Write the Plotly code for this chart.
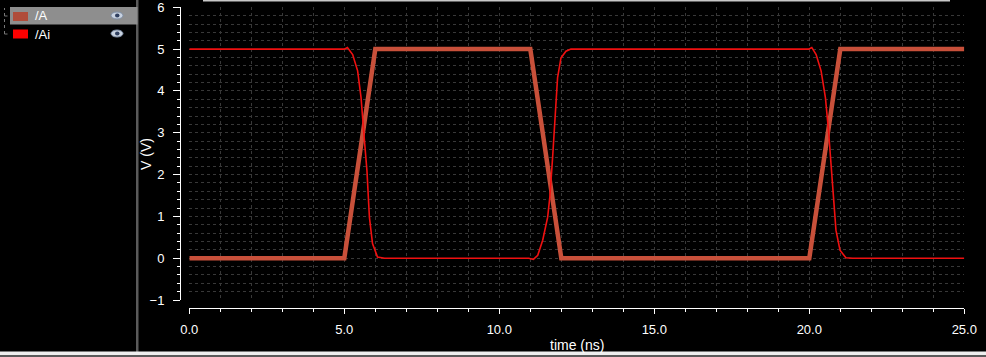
import plotly.graph_objects as go

W, H = 986, 357

# ---- data ----
series_names = ["/A", "/Ai"]
t_A = [0, 5, 6, 11, 12, 20, 21, 25]
v_A = [0, 0, 5, 5, 0, 0, 5, 5]

t_Ai = [0, 5.0, 5.1, 5.27, 5.43, 5.54, 5.65, 5.73, 5.81, 5.91, 6.07, 6.3,
        10.95, 11.1, 11.24, 11.4, 11.56, 11.63, 11.72, 11.8, 11.88, 11.99, 12.15, 12.31,
        19.98, 20.08, 20.22, 20.38, 20.52, 20.62, 20.7, 20.77, 20.86, 20.99, 21.18, 21.4, 25]
v_Ai = [5, 5, 5.04, 4.87, 4.48, 3.84, 2.81, 2.1, 0.98, 0.35, 0.03, 0,
        0, -0.03, 0.07, 0.43, 0.98, 1.46, 2.41, 3.44, 4.32, 4.79, 4.95, 5.0,
        5.0, 5.04, 4.87, 4.48, 3.84, 3.05, 2.25, 1.46, 0.67, 0.19, 0.01, 0, 0]

x_range = [0, 25]
y_range = [-1, 6]
x_title = "time (ns)"
y_title = "V (V)"

col_A = "#c8503a"
col_Ai = "#f01010"


def fx(px):
    return px / W


def fy(py):
    return 1 - py / H


FONT = "Liberation Sans"
x_dom = [fx(189.3), fx(964.3)]
y_dom = [fy(300), fy(7.3)]

fig = go.Figure()
# carrier trace so the outer (offset) axes are drawn
fig.add_trace(go.Scatter(x=x_range, y=y_range, xaxis="x2", yaxis="y2", mode="lines",
                         line=dict(width=0, color="rgba(0,0,0,0)"), hoverinfo="skip",
                         showlegend=False))
fig.add_trace(go.Scatter(x=t_A, y=v_A, mode="lines", name=series_names[0],
                         line=dict(color=col_A, width=4.5), showlegend=False))
fig.add_trace(go.Scatter(x=t_Ai, y=v_Ai, mode="lines", name=series_names[1],
                         line=dict(color=col_Ai, width=1.6), showlegend=False))

grid = dict(gridcolor="#383838", griddash="dot", gridwidth=1)

fig.update_layout(
    width=W, height=H,
    autosize=False,
    margin=dict(l=0, r=0, t=0, b=0, pad=0, autoexpand=False),
    paper_bgcolor="black", plot_bgcolor="black",
    font=dict(family=FONT, color="white", size=13),
    xaxis=dict(domain=x_dom, range=x_range, showgrid=True, dtick=5, **grid,
               minor=dict(dtick=1, showgrid=True, **grid), automargin=False,
               zeroline=False, showticklabels=False, showline=False, ticks=""),
    yaxis=dict(domain=y_dom, range=y_range, showgrid=True, dtick=1, **grid,
               minor=dict(dtick=0.2, showgrid=True, **grid), automargin=False,
               zeroline=False, showticklabels=False, showline=False, ticks=""),
    xaxis2=dict(overlaying="x", anchor="free", position=fy(307.5), range=x_range,
                domain=x_dom, automargin=False, ticklabeloverflow="allow",
                showgrid=False, zeroline=False, showline=True, linecolor="white", linewidth=1,
                ticks="outside", ticklen=5, tickcolor="white", tickwidth=1, dtick=5,
                tickformat=".1f", ticklabelstandoff=5,
                tickfont=dict(family=FONT, color="white", size=13),
                minor=dict(dtick=1, ticks="outside", ticklen=3, tickcolor="white", showgrid=False)),
    yaxis2=dict(overlaying="y", anchor="free", position=fx(180), side="left", range=y_range,
                domain=y_dom, automargin=False, ticklabeloverflow="allow",
                showgrid=False, zeroline=False, showline=True, linecolor="white", linewidth=1,
                ticks="outside", ticklen=7, tickcolor="white", tickwidth=1, dtick=1,
                ticklabelstandoff=6,
                tickfont=dict(family=FONT, color="white", size=13),
                minor=dict(dtick=0.2, ticks="outside", ticklen=3, tickcolor="white", showgrid=False)),
)

# axis titles
fig.add_annotation(x=fx(577), y=fy(345), xref="paper", yref="paper", text=x_title,
                   showarrow=False, font=dict(family=FONT, size=14, color="white"),
                   xanchor="center", yanchor="middle")
fig.add_annotation(x=fx(146), y=fy(154), xref="paper", yref="paper", text=y_title,
                   showarrow=False, textangle=-90, font=dict(family=FONT, size=14, color="white"),
                   xanchor="center", yanchor="middle")

shapes = []
# left panel separator
shapes.append(dict(type="rect", xref="paper", yref="paper", x0=fx(136), x1=fx(138.5),
                   y0=fy(352), y1=fy(0), fillcolor="#5a5a5a", line=dict(width=0), layer="below"))
# bottom band
shapes.append(dict(type="rect", xref="paper", yref="paper", x0=0, x1=1,
                   y0=fy(355), y1=fy(351.5), fillcolor="#eeeeee", line=dict(width=0)))
shapes.append(dict(type="rect", xref="paper", yref="paper", x0=0, x1=1,
                   y0=0, y1=fy(355), fillcolor="#5a5a5a", line=dict(width=0)))
# top grey line
shapes.append(dict(type="rect", xref="paper", yref="paper", x0=fx(203), x1=fx(950),
                   y0=fy(1.5), y1=1, fillcolor="#c8c8c8", line=dict(width=0)))
# legend highlight row
shapes.append(dict(type="rect", xref="paper", yref="paper", x0=fx(10), x1=fx(137.5),
                   y0=fy(24.5), y1=fy(7), fillcolor="#8e8e8e", line=dict(width=0)))
# tree dotted lines
shapes.append(dict(type="line", xref="paper", yref="paper", x0=fx(4.5), x1=fx(4.5),
                   y0=fy(34), y1=fy(8), line=dict(color="#777777", width=1, dash="dot")))
for yy in (16, 34):
    shapes.append(dict(type="line", xref="paper", yref="paper", x0=fx(4.5), x1=fx(10),
                       y0=fy(yy), y1=fy(yy), line=dict(color="#777777", width=1, dash="dot")))
# swatches
shapes.append(dict(type="rect", xref="paper", yref="paper", x0=fx(13), x1=fx(28),
                   y0=fy(21), y1=fy(12), fillcolor="#b04c3a", line=dict(width=0)))
shapes.append(dict(type="rect", xref="paper", yref="paper", x0=fx(13), x1=fx(28),
                   y0=fy(38.5), y1=fy(29.5), fillcolor="#ff0000", line=dict(width=0)))
# eye icons
for yy in (15.5, 33.5):
    shapes.append(dict(type="circle", xref="paper", yref="paper", x0=fx(111), x1=fx(123),
                       y0=fy(yy + 3.5), y1=fy(yy - 3.5), fillcolor="#c8d2e0",
                       line=dict(color="#8090a8", width=1)))
    shapes.append(dict(type="circle", xref="paper", yref="paper", x0=fx(115), x1=fx(119.5),
                       y0=fy(yy + 2), y1=fy(yy - 2), fillcolor="#304060", line=dict(width=0)))
fig.update_layout(shapes=shapes)

for name, yy in zip(series_names, (16, 34)):
    fig.add_annotation(x=fx(33), y=fy(yy), xref="paper", yref="paper", text=name,
                       showarrow=False, xanchor="left", yanchor="middle",
                       font=dict(family=FONT, size=13, color="white"))

fig.write_html("out.html")
